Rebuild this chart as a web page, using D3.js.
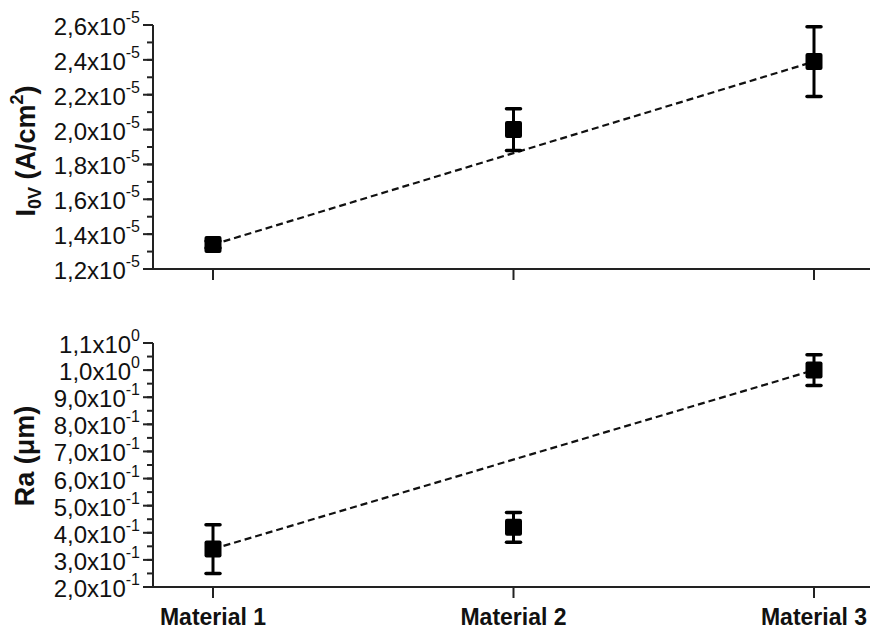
<!DOCTYPE html>
<html><head><meta charset="utf-8">
<script src="https://cdn.jsdelivr.net/npm/d3@7/dist/d3.min.js"></script>
<style>body{margin:0;background:#fff}svg{display:block}text{font-family:"Liberation Sans",Arial,sans-serif;fill:#111}</style>
</head><body><svg id="c" width="870" height="631"></svg>
<script>
const categories = ["Material 1","Material 2","Material 3"];
// Top panel: I0V (x1e-5 A/cm2)
const i0vMean = [1.34, 2.00, 2.39];
const i0vErr  = [0.02, 0.12, 0.20];
const i0vFitEnds = [1.34, 2.39]; // dashed line from Material 1 to Material 3
const i0vTicks = [1.2,1.4,1.6,1.8,2.0,2.2,2.4,2.6];
const i0vTickMain = ["1,2x10","1,4x10","1,6x10","1,8x10","2,0x10","2,2x10","2,4x10","2,6x10"];
const i0vTickExp  = ["-5","-5","-5","-5","-5","-5","-5","-5"];
// Bottom panel: Ra (um)
const raMean = [0.34, 0.42, 1.00];
const raErr  = [0.09, 0.055, 0.057];
const raFitEnds = [0.34, 1.00];
const raTicks = [0.2,0.3,0.4,0.5,0.6,0.7,0.8,0.9,1.0,1.1];
const raTickMain = ["2,0x10","3,0x10","4,0x10","5,0x10","6,0x10","7,0x10","8,0x10","9,0x10","1,0x10","1,1x10"];
const raTickExp  = ["-1","-1","-1","-1","-1","-1","-1","-1","0","0"];

const svg = d3.select("#c");
const axisX0 = 153, axisX1 = 870;
const x = d3.scalePoint().domain(categories).range([213, 814]);
const ink = "#222";

function panel(opt){
  const y = d3.scaleLinear().domain(opt.domain).range([opt.bottom, opt.top]);
  const g = svg.append("g");
  const minor = d3.range(opt.domain[0], opt.domain[1] + opt.minorStep/2, opt.minorStep);
  g.selectAll(".mn").data(minor).join("line")
    .attr("x1", axisX0-6).attr("x2", axisX0).attr("y1", d=>y(d)).attr("y2", d=>y(d))
    .attr("stroke", ink).attr("stroke-width", 2);
  g.selectAll(".mj").data(opt.ticks).join("line")
    .attr("x1", axisX0-10).attr("x2", axisX0).attr("y1", d=>y(d)).attr("y2", d=>y(d))
    .attr("stroke", ink).attr("stroke-width", 2);
  const tl = g.selectAll(".tl").data(opt.ticks).join("text")
    .attr("text-anchor","end").attr("x", axisX0-13).attr("y", d=>y(d)+10)
    .style("font-size","24px");
  tl.append("tspan").text((d,i)=>opt.tickMain[i]);
  tl.append("tspan").attr("dy",-12).style("font-size","16px").text((d,i)=>opt.tickExp[i]);
  g.append("line").attr("x1",axisX0).attr("x2",axisX0).attr("y1",y(opt.domain[1])).attr("y2",y(opt.domain[0])+1)
    .attr("stroke",ink).attr("stroke-width",2);
  g.append("line").attr("x1",axisX0).attr("x2",axisX1).attr("y1",y(opt.domain[0])).attr("y2",y(opt.domain[0]))
    .attr("stroke",ink).attr("stroke-width",2);
  g.selectAll(".ct").data(categories).join("line")
    .attr("x1", d=>x(d)).attr("x2", d=>x(d)).attr("y1", y(opt.domain[0])).attr("y2", y(opt.domain[0])+11)
    .attr("stroke",ink).attr("stroke-width",2);
  g.append("line")
    .attr("x1", x(categories[0])).attr("y1", y(opt.fit[0]))
    .attr("x2", x(categories[2])).attr("y2", y(opt.fit[1]))
    .attr("stroke","#111").attr("stroke-width",2.2).attr("stroke-dasharray","7,4");
  const cap = 7;
  categories.forEach((c,i)=>{
    const m = opt.mean[i], e = opt.err[i], cx = x(c);
    g.append("line").attr("x1",cx).attr("x2",cx).attr("y1",y(m+e)).attr("y2",y(m-e))
      .attr("stroke","#000").attr("stroke-width",3);
    [m+e, m-e].forEach(v=>{
      g.append("line").attr("x1",cx-cap).attr("x2",cx+cap).attr("y1",y(v)).attr("y2",y(v))
        .attr("stroke","#000").attr("stroke-width",3.5).attr("stroke-linecap","round");
    });
    g.append("rect").attr("x",cx-8.5).attr("y",y(m)-8.5).attr("width",17).attr("height",17)
      .attr("rx",2).attr("fill","#000");
  });
  return y;
}

panel({domain:[1.2,2.6], top:25, bottom:269, ticks:i0vTicks, tickMain:i0vTickMain, tickExp:i0vTickExp,
  minorStep:0.1, mean:i0vMean, err:i0vErr, fit:i0vFitEnds});
panel({domain:[0.2,1.1], top:343, bottom:587, ticks:raTicks, tickMain:raTickMain, tickExp:raTickExp,
  minorStep:0.05, mean:raMean, err:raErr, fit:raFitEnds});

svg.selectAll(".cl").data(categories).join("text")
  .attr("x", d=>x(d)).attr("y", 625).attr("text-anchor","middle")
  .style("font-size","23px").style("font-weight","bold").text(d=>d);

const t1 = svg.append("text").attr("transform","translate(35,151) rotate(-90)")
  .attr("text-anchor","middle").style("font-size","27px").style("font-weight","bold");
t1.append("tspan").text("I");
t1.append("tspan").attr("dy",6).style("font-size","18px").text("0V");
t1.append("tspan").attr("dy",-6).text(" (A/cm");
t1.append("tspan").attr("dy",-12).style("font-size","18px").text("2");
t1.append("tspan").attr("dy",12).text(")");

svg.append("text").attr("transform","translate(34,456) rotate(-90)")
  .attr("text-anchor","middle").style("font-size","27px").style("font-weight","bold")
  .text("Ra (\u03bcm)");
</script></body></html>
